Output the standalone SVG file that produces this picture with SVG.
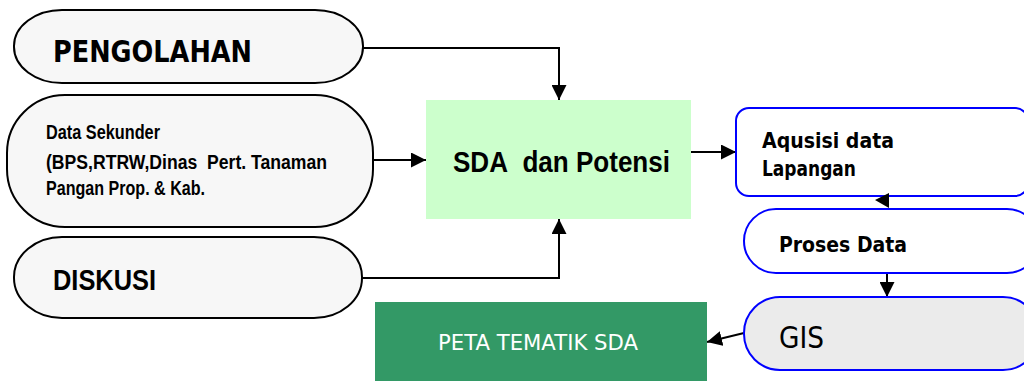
<svg xmlns="http://www.w3.org/2000/svg" width="1024" height="381" viewBox="0 0 1024 381">
  <style>
    .src { fill: #f7f7f7; stroke: #000; stroke-width: 2; }
    .flow { fill: #fff; stroke: #0000ff; stroke-width: 2; }
    .arial { font-family: "Liberation Sans", Arial, sans-serif; font-weight: bold; fill: #000; }
    .taho { font-family: "DejaVu Sans", Tahoma, sans-serif; fill: #000; }
    .link { fill: none; stroke: #000; stroke-width: 2; }
    .pre { white-space: pre; }
  </style>
  <defs>
    <marker id="arrow" markerUnits="userSpaceOnUse" markerWidth="15" markerHeight="15" refX="15" refY="7.5" orient="auto">
      <path d="M0,0 L15,7.5 L0,15 z" fill="#000"/>
    </marker>
  </defs>
  <rect width="1024" height="381" fill="#fff"/>

  <!-- connectors -->
  <g id="connectors">
    <path class="link" d="M363,48 H559 V100" marker-end="url(#arrow)"/>
    <path class="link" d="M373,160 H426" marker-end="url(#arrow)"/>
    <path class="link" d="M362,278 H559 V219" marker-end="url(#arrow)"/>
    <path class="link" d="M691,152 H736" marker-end="url(#arrow)"/>
    <path class="link" d="M887,273 V297" marker-end="url(#arrow)"/>
    <path class="link" d="M744,333 L707,342" marker-end="url(#arrow)"/>
  </g>

  <g id="pengolahan">
    <rect class="src" x="14" y="10" width="349" height="73" rx="48" ry="36"/>
    <text class="taho" x="53" y="62" font-size="31" font-weight="bold" textLength="199" lengthAdjust="spacingAndGlyphs">PENGOLAHAN</text>
  </g>

  <g id="data-sekunder">
    <rect class="src" x="7" y="95" width="366" height="132" rx="58" ry="58"/>
    <text class="arial" font-size="20">
      <tspan x="46" y="139" textLength="114" lengthAdjust="spacingAndGlyphs">Data Sekunder</tspan>
      <tspan class="pre" x="46" y="169" textLength="281" lengthAdjust="spacingAndGlyphs">(BPS,RTRW,Dinas&#160; Pert. Tanaman</tspan>
      <tspan x="46" y="195" textLength="159" lengthAdjust="spacingAndGlyphs">Pangan Prop. &amp; Kab.</tspan>
    </text>
  </g>

  <g id="diskusi">
    <rect class="src" x="14" y="237" width="348" height="81" rx="48" ry="40"/>
    <text class="arial" x="53" y="290" font-size="30" textLength="103" lengthAdjust="spacingAndGlyphs">DISKUSI</text>
  </g>

  <g id="sda">
    <rect x="426" y="100" width="265" height="119" fill="#ccffcc"/>
    <text class="arial pre" x="453" y="172" font-size="30" textLength="217" lengthAdjust="spacingAndGlyphs">SDA&#160; dan Potensi</text>
  </g>

  <g id="aqusisi">
    <rect class="flow" x="736" y="108" width="292" height="88" rx="13" ry="13"/>
    <text class="taho" font-size="21" font-weight="bold">
      <tspan x="762" y="148" textLength="132" lengthAdjust="spacingAndGlyphs">Aqusisi data</tspan>
      <tspan x="762" y="176" textLength="94" lengthAdjust="spacingAndGlyphs">Lapangan</tspan>
    </text>
  </g>

  <!-- arrowhead between the acquisition and processing boxes -->
  <polygon points="875,200 889,193 889,208" fill="#000"/>

  <g id="proses">
    <rect class="flow" x="744" y="209" width="295" height="64" rx="32" ry="32"/>
    <text class="taho" x="779" y="252" font-size="21" font-weight="bold" textLength="128" lengthAdjust="spacingAndGlyphs">Proses Data</text>
  </g>

  <g id="gis">
    <rect class="flow" x="744" y="297" width="295" height="73" rx="36" ry="36" style="fill:#ebebeb"/>
    <text class="taho" x="779" y="348" font-size="30" textLength="45" lengthAdjust="spacingAndGlyphs">GIS</text>
  </g>

  <g id="peta">
    <rect x="375" y="302" width="332" height="79" fill="#339966"/>
    <text class="taho" x="438" y="350" font-size="22" style="fill:#fff" textLength="200" lengthAdjust="spacingAndGlyphs">PETA TEMATIK SDA</text>
  </g>
</svg>
